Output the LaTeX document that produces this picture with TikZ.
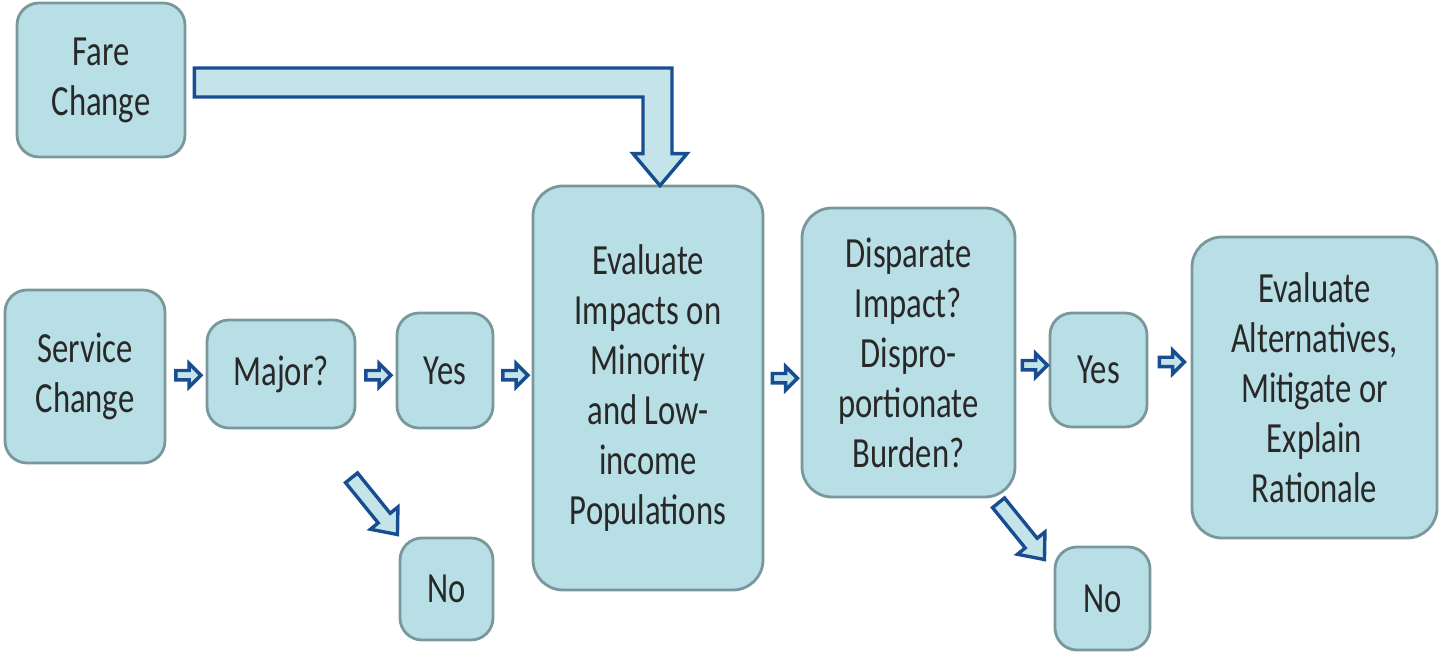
\documentclass[tikz,border=0pt]{standalone}
\usepackage{fontspec}
\setmainfont{Carlito}[FakeStretch=0.76]
\usetikzlibrary{calc,shapes.arrows}
\definecolor{cajaAzul}{RGB}{184, 223, 229}
\definecolor{bordeGris}{RGB}{122, 152, 156}
\definecolor{flechaAzul}{RGB}{24, 78, 145}
\definecolor{flechaClaro}{RGB}{196, 228, 234}
\definecolor{texto}{RGB}{40, 40, 40}

\begin{document}
\begin{tikzpicture}[x=1pt,y=1pt,
    caja/.style={draw=bordeGris,fill=cajaAzul,line width=2.8pt,rounded corners=22pt,
      align=center,text=texto,font=\fontsize{43}{50}\selectfont,inner sep=0pt},
    flechita/.style={single arrow,draw=flechaAzul,fill=flechaClaro,line width=3.4pt,
      minimum height=25pt,inner xsep=0pt,inner ysep=3pt,single arrow head extend=7pt,
      single arrow tip angle=90},
    flechadiag/.style={single arrow,draw=flechaAzul,fill=flechaClaro,line width=3.4pt,
      minimum height=73pt,inner xsep=0pt,inner ysep=6pt,single arrow head extend=10pt,
      single arrow tip angle=80,rotate=-51},
    bloque/.style={draw=flechaAzul,fill=flechaClaro,line width=3.4pt,line join=miter}]
  \useasboundingbox (0,0) rectangle (1442,655);
  % cajas
  \node[caja,minimum width=168pt,minimum height=154pt] (fare) at (101,575) {Fare\\Change};
  \node[caja,minimum width=160pt,minimum height=173pt] (svc) at (85,278.5) {Service\\Change};
  \node[caja,minimum width=148pt,minimum height=108pt] (major) at (281,281) {Major?};
  \node[caja,minimum width=96pt,minimum height=115pt] (yes1) at (445,284.5) {Yes};
  \node[caja,minimum width=230pt,minimum height=404pt,rounded corners=30pt] (eval) at (648,267)
    {Evaluate\\Impacts on\\Minority\\and Low-\\income\\Populations};
  \node[caja,minimum width=213pt,minimum height=289pt,rounded corners=30pt] (disp) at (908.5,302.5)
    {Disparate\\Impact?\\Dispro-\\portionate\\Burden?};
  \node[caja,minimum width=97pt,minimum height=114pt] (yes2) at (1098.5,285) {Yes};
  \node[caja,minimum width=245pt,minimum height=301pt,rounded corners=30pt] (alt) at (1314.5,267.5)
    {Evaluate\\Alternatives,\\Mitigate or\\Explain\\Rationale};
  \node[caja,minimum width=93pt,minimum height=102pt] (no1) at (446.5,66) {No};
  \node[caja,minimum width=95pt,minimum height=103pt] (no2) at (1102.5,56.5) {No};

  % flechas pequenas
  \node[flechita] (f1) at ($(svc.east)!0.5!(major.west)$) {};
  \node[flechita] (f2) at ($(major.east)!0.5!(yes1.west)+(0,-3)$) {};
  \node[flechita] (f3) at ($(yes1.east)!0.5!(eval.west)+(0,4)$) {};
  \node[flechita] (f4) at ($(eval.east)!0.5!(disp.west)+(0,-8)$) {};
  \node[flechita] (f5) at ($(disp.east)!0.5!(yes2.west)+(0,-4)$) {};
  \node[flechita] (f6) at ($(yes2.east)!0.5!(yes2.east -| alt.west)+(0,8)$) {};

  % flechas diagonales
  \node[flechadiag] (d1) at ($(no1.north west)+(-27,34)$) {};
  \node[flechadiag] (d2) at ($(no2.north west)+(-35,18)$) {};

  % flecha doblada desde Fare Change
  \coordinate (punta) at ($(eval.north)+(12,-1)$);
  \coordinate (bsup) at ($(fare.east)+(8,12)$);
  \coordinate (binf) at ($(fare.east)+(8,-17)$);
  \coordinate (pder) at ($(punta)+(12,0)$);
  \coordinate (pizq) at ($(punta)+(-17,0)$);
  \draw[bloque] (bsup) -- (bsup -| pder) -- ($(punta)+(12,32)$)
    -- ($(punta)+(27,32)$) -- (punta) -- ($(punta)+(-27,32)$) -- ($(punta)+(-17,32)$)
    -- (binf -| pizq) -- (binf) -- cycle;
\end{tikzpicture}
\end{document}
